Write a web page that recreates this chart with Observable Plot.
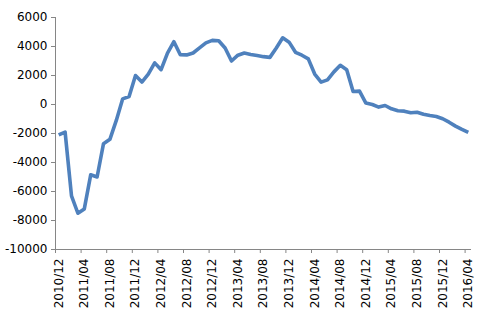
<!DOCTYPE html>
<html>
<head>
<meta charset="utf-8">
<script src="https://cdn.jsdelivr.net/npm/d3@7"></script>
<script src="https://cdn.jsdelivr.net/npm/@observablehq/plot@0.6"></script>
<style>
  html, body { margin: 0; padding: 0; background: #fff; }
  #chart { width: 486px; height: 311px; }
</style>
</head>
<body>
<div id="chart"></div>
<script>
const months = [
  "2010/12",
  "2011/01","2011/02","2011/03","2011/04","2011/05","2011/06","2011/07","2011/08","2011/09","2011/10","2011/11","2011/12",
  "2012/01","2012/02","2012/03","2012/04","2012/05","2012/06","2012/07","2012/08","2012/09","2012/10","2012/11","2012/12",
  "2013/01","2013/02","2013/03","2013/04","2013/05","2013/06","2013/07","2013/08","2013/09","2013/10","2013/11","2013/12",
  "2014/01","2014/02","2014/03","2014/04","2014/05","2014/06","2014/07","2014/08","2014/09","2014/10","2014/11","2014/12",
  "2015/01","2015/02","2015/03","2015/04","2015/05","2015/06","2015/07","2015/08","2015/09","2015/10","2015/11","2015/12",
  "2016/01","2016/02","2016/03","2016/04"
];
const values = [
  -2100,
  -1900, -6300, -7500, -7200, -4850, -5000, -2700, -2400, -1100, 390, 550, 2000,
  1550, 2100, 2870, 2400, 3550, 4330, 3430, 3420, 3550, 3900, 4250, 4420,
  4400, 3900, 3000, 3400, 3550, 3450, 3380, 3300, 3250, 3900, 4600, 4300,
  3600, 3400, 3150, 2100, 1540, 1700, 2250, 2700, 2400, 900, 920, 100,
  0, -180, -70, -300, -430, -460, -570, -530, -670, -760, -830, -980,
  -1220, -1490, -1720, -1930
];
const xTickLabels = ["2010/12","2011/04","2011/08","2011/12","2012/04","2012/08","2012/12","2013/04","2013/08","2013/12","2014/04","2014/08","2014/12","2015/04","2015/08","2015/12","2016/04"];
const yTicks = [-10000, -8000, -6000, -4000, -2000, 0, 2000, 4000, 6000];

const data = months.map((m, i) => ({month: m, value: values[i]}));
const idx = m => months.indexOf(m);
const tickPos = xTickLabels.map(idx);
const labelPos = tickPos.map(p => p + 0.5);

const axisColor = "#868686";
const chart = Plot.plot({
  width: 486,
  height: 311,
  marginLeft: 55,
  marginRight: 15,
  marginTop: 17,
  marginBottom: 62,
  style: {fontFamily: "DejaVu Sans", fontSize: "12px", color: "#000", background: "#fff"},
  x: {type: "linear", domain: [0, months.length], axis: null},
  y: {domain: [-10000, 6000], axis: null},
  marks: [
    Plot.axisY({ticks: yTicks, tickSize: 4, tickPadding: 4, stroke: axisColor, fill: "#000", label: null, tickFormat: d => String(d)}),
    Plot.axisX({ticks: tickPos, tickSize: 4, stroke: axisColor, label: null, tickFormat: () => ""}),
    Plot.axisX({ticks: labelPos, tickSize: 0, tickPadding: 9, tickRotate: -90, fill: "#000", label: null,
      tickFormat: p => months[Math.round(p - 0.5)]}),
    Plot.ruleX([0], {stroke: axisColor, strokeWidth: 1}),
    Plot.ruleY([-10000], {stroke: axisColor, strokeWidth: 1}),
    Plot.line(data, {x: d => idx(d.month) + 0.5, y: "value", stroke: "#4F81BD", strokeWidth: 3.6, strokeLinejoin: "round", strokeLinecap: "butt"})
  ]
});
document.getElementById("chart").appendChild(chart);
</script>
</body>
</html>
